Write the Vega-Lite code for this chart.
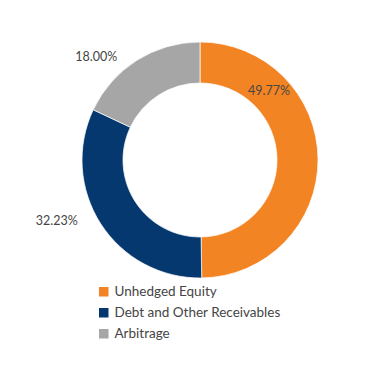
{
  "$schema": "https://vega.github.io/schema/vega-lite/v6.json",
  "width": 338,
  "height": 320,
  "autosize": "none",
  "padding": {"left": 31, "top": 0, "right": 0, "bottom": 70},
  "background": "white",
  "config": {"view": {"stroke": null}, "font": "Lato"},
  "data": {
    "values": [
      {"category": "Unhedged Equity", "value": 49.77, "label": "49.77%", "order": 1},
      {"category": "Debt and Other Receivables", "value": 32.23, "label": "32.23%", "order": 2},
      {"category": "Arbitrage", "value": 18.00, "label": "18.00%", "order": 3}
    ]
  },
  "encoding": {
    "theta": {"field": "value", "type": "quantitative", "stack": true},
    "order": {"field": "order", "type": "quantitative", "sort": "ascending"}
  },
  "layer": [
    {
      "mark": {"type": "arc", "outerRadius": 118, "innerRadius": 77, "stroke": "white", "strokeWidth": 0.7},
      "encoding": {
        "color": {
          "field": "category",
          "type": "nominal",
          "scale": {
            "domain": ["Unhedged Equity", "Debt and Other Receivables", "Arbitrage"],
            "range": ["#F38423", "#04386F", "#A6A6A6"]
          },
          "legend": {
            "title": null,
            "orient": "none",
            "legendX": 66,
            "legendY": 285,
            "symbolType": "square",
            "symbolSize": 90,
            "symbolStrokeWidth": 0,
            "labelFontSize": 13.5,
            "labelFont": "Lato",
            "labelColor": "#454545",
            "labelLimit": 400,
            "rowPadding": 6,
            "labelOffset": 4
          }
        }
      }
    },
    {
      "mark": {"type": "text", "radius": 97, "dx": -28, "dy": -68, "fontSize": 12.5, "font": "Lato", "color": "#454545"},
      "encoding": {
        "text": {"condition": {"test": "datum.category === 'Unhedged Equity'", "field": "label"}, "value": ""}
      }
    },
    {
      "mark": {"type": "text", "radius": 155, "dx": -13, "dy": -23, "fontSize": 12.5, "font": "Lato", "color": "#454545"},
      "encoding": {
        "text": {"condition": {"test": "datum.category === 'Debt and Other Receivables'", "field": "label"}, "value": ""}
      }
    },
    {
      "mark": {"type": "text", "radius": 147, "dx": -25, "dy": 21, "fontSize": 12.5, "font": "Lato", "color": "#454545"},
      "encoding": {
        "text": {"condition": {"test": "datum.category === 'Arbitrage'", "field": "label"}, "value": ""}
      }
    }
  ]
}
